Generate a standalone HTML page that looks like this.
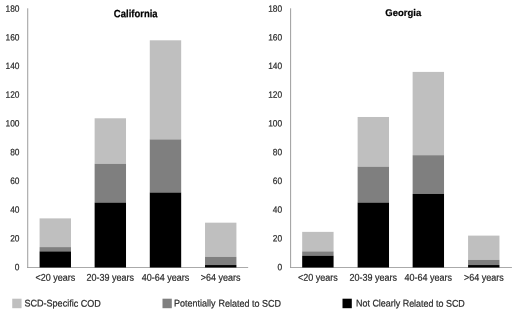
<!DOCTYPE html>
<html><head><meta charset="utf-8"><title>Chart</title>
<style>
html,body{margin:0;padding:0;background:#fff;}
body{width:520px;height:314px;overflow:hidden;}
svg{display:block;}
text{font-family:"Liberation Sans",Arial,sans-serif;fill:#2a2a2a;stroke:#2a2a2a;stroke-width:0.2px;}
.y{font-size:9px;text-anchor:end;}
.x{font-size:9px;text-anchor:middle;}
.t{font-size:9.5px;font-weight:bold;text-anchor:middle;fill:#000;stroke:#000;}
.l{font-size:9px;}
</style></head><body>
<svg width="520" height="314" viewBox="0 0 520 314">
<rect width="520" height="314" fill="#fff"/>
<text class="t" transform="translate(135.75,17.3) rotate(0.03) scale(1,1.12)">California</text>
<text class="y" transform="translate(19.50,270.15) rotate(0.03) scale(0.93,1.02)">0</text>
<text class="y" transform="translate(19.50,241.43) rotate(0.03) scale(0.93,1.02)">20</text>
<text class="y" transform="translate(19.50,212.71) rotate(0.03) scale(0.93,1.02)">40</text>
<text class="y" transform="translate(19.50,183.99) rotate(0.03) scale(0.93,1.02)">60</text>
<text class="y" transform="translate(19.50,155.27) rotate(0.03) scale(0.93,1.02)">80</text>
<text class="y" transform="translate(19.50,126.55) rotate(0.03) scale(0.93,1.02)">100</text>
<text class="y" transform="translate(19.50,97.83) rotate(0.03) scale(0.93,1.02)">120</text>
<text class="y" transform="translate(19.50,69.11) rotate(0.03) scale(0.93,1.02)">140</text>
<text class="y" transform="translate(19.50,40.39) rotate(0.03) scale(0.93,1.02)">160</text>
<text class="y" transform="translate(19.50,11.67) rotate(0.03) scale(0.93,1.02)">180</text>
<rect x="27.30" y="8.3" width="0.9" height="259.40" fill="#929292"/>
<rect x="27.05" y="267.10" width="221.10" height="0.8" fill="#959595"/>
<rect x="39.58" y="218.38" width="31.4" height="28.72" fill="#bfbfbf"/>
<rect x="39.58" y="247.10" width="31.4" height="4.31" fill="#7f7f7f"/>
<rect x="39.58" y="251.40" width="31.4" height="16.10" fill="#000"/>
<text class="x" transform="translate(55.28,280.8) rotate(0.03) scale(1,1.09)">&lt;20 years</text>
<rect x="94.62" y="118.29" width="31.4" height="45.52" fill="#bfbfbf"/>
<rect x="94.62" y="163.81" width="31.4" height="38.77" fill="#7f7f7f"/>
<rect x="94.62" y="202.58" width="31.4" height="64.92" fill="#000"/>
<text class="x" transform="translate(110.33,280.8) rotate(0.03) scale(1,1.09)">20-39 years</text>
<rect x="149.78" y="40.31" width="31.4" height="99.08" fill="#bfbfbf"/>
<rect x="149.78" y="139.40" width="31.4" height="53.13" fill="#7f7f7f"/>
<rect x="149.78" y="192.53" width="31.4" height="74.97" fill="#000"/>
<text class="x" transform="translate(165.47,280.8) rotate(0.03) scale(1,1.09)">40-64 years</text>
<rect x="205.02" y="222.68" width="31.4" height="34.18" fill="#bfbfbf"/>
<rect x="205.02" y="256.86" width="31.4" height="8.19" fill="#7f7f7f"/>
<rect x="205.02" y="265.05" width="31.4" height="2.45" fill="#000"/>
<text class="x" transform="translate(220.72,280.8) rotate(0.03) scale(1,1.09)">&gt;64 years</text>
<text class="t" transform="translate(403.25,16.0) rotate(0.03) scale(1,1.03)">Georgia</text>
<text class="y" transform="translate(282.10,270.15) rotate(0.03) scale(0.93,1.02)">0</text>
<text class="y" transform="translate(282.10,241.43) rotate(0.03) scale(0.93,1.02)">20</text>
<text class="y" transform="translate(282.10,212.71) rotate(0.03) scale(0.93,1.02)">40</text>
<text class="y" transform="translate(282.10,183.99) rotate(0.03) scale(0.93,1.02)">60</text>
<text class="y" transform="translate(282.10,155.27) rotate(0.03) scale(0.93,1.02)">80</text>
<text class="y" transform="translate(282.10,126.55) rotate(0.03) scale(0.93,1.02)">100</text>
<text class="y" transform="translate(282.10,97.83) rotate(0.03) scale(0.93,1.02)">120</text>
<text class="y" transform="translate(282.10,69.11) rotate(0.03) scale(0.93,1.02)">140</text>
<text class="y" transform="translate(282.10,40.39) rotate(0.03) scale(0.93,1.02)">160</text>
<text class="y" transform="translate(282.10,11.67) rotate(0.03) scale(0.93,1.02)">180</text>
<rect x="290.20" y="8.3" width="0.9" height="259.40" fill="#929292"/>
<rect x="290.05" y="267.10" width="221.90" height="0.8" fill="#959595"/>
<rect x="302.18" y="231.87" width="31.4" height="19.53" fill="#bfbfbf"/>
<rect x="302.18" y="251.40" width="31.4" height="4.31" fill="#7f7f7f"/>
<rect x="302.18" y="255.71" width="31.4" height="11.79" fill="#000"/>
<text class="x" transform="translate(317.88,280.8) rotate(0.03) scale(1,1.09)">&lt;20 years</text>
<rect x="357.62" y="116.99" width="31.4" height="49.69" fill="#bfbfbf"/>
<rect x="357.62" y="166.68" width="31.4" height="35.90" fill="#7f7f7f"/>
<rect x="357.62" y="202.58" width="31.4" height="64.92" fill="#000"/>
<text class="x" transform="translate(373.32,280.8) rotate(0.03) scale(1,1.09)">20-39 years</text>
<rect x="412.63" y="71.90" width="31.4" height="83.29" fill="#bfbfbf"/>
<rect x="412.63" y="155.19" width="31.4" height="38.77" fill="#7f7f7f"/>
<rect x="412.63" y="193.96" width="31.4" height="73.54" fill="#000"/>
<text class="x" transform="translate(428.33,280.8) rotate(0.03) scale(1,1.09)">40-64 years</text>
<rect x="468.07" y="235.61" width="31.4" height="24.27" fill="#bfbfbf"/>
<rect x="468.07" y="259.88" width="31.4" height="5.17" fill="#7f7f7f"/>
<rect x="468.07" y="265.05" width="31.4" height="2.45" fill="#000"/>
<text class="x" transform="translate(483.77,280.8) rotate(0.03) scale(1,1.09)">&gt;64 years</text>
<rect x="12.25" y="298.7" width="9.3" height="9.5" fill="#bfbfbf"/>
<text class="l" transform="translate(24.5,306.6) rotate(0.03) scale(1.005,1.08)">SCD-Specific COD</text>
<rect x="162.5" y="298.7" width="9.3" height="9.5" fill="#7f7f7f"/>
<text class="l" transform="translate(174.0,306.6) rotate(0.03) scale(1.0,1.08)">Potentially <tspan dx="0.6">Related</tspan> to SCD</text>
<rect x="342.5" y="298.7" width="9.3" height="9.5" fill="#000"/>
<text class="l" transform="translate(356.0,306.6) rotate(0.03) scale(0.995,1.08)">Not Clearly Related to SCD</text>
</svg></body></html>
